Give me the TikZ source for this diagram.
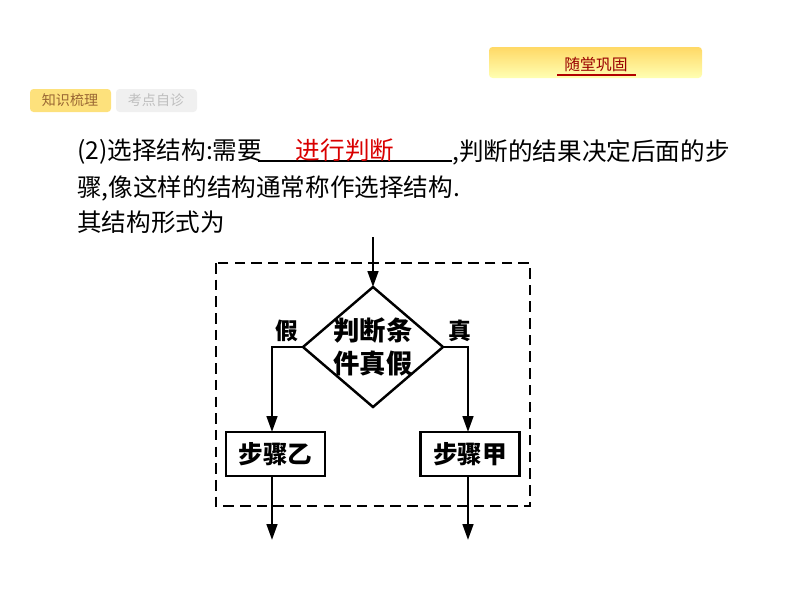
\documentclass[tikz,border=0pt]{standalone}
\usepackage{fontspec}
\newfontfamily\cjk{Noto Sans CJK SC}
\usetikzlibrary{arrows.meta}
\begin{document}
\begin{tikzpicture}[x=0.02cm,y=-0.02cm,
  body/.style={font=\cjk\fontsize{14}{16}\selectfont,anchor=west,inner sep=0},
  flow/.style={line width=1.4pt},
  arr/.style={flow,-{Triangle[length=9pt,width=6pt]}},
  stepbox/.style={draw,line width=1.6pt,minimum width=99*0.02cm,minimum height=44*0.02cm,font=\cjk\bfseries\fontsize{14}{16}\selectfont,inner sep=0},
  lbl/.style={font=\cjk\bfseries\fontsize{13}{15}\selectfont,inner sep=0}]
\useasboundingbox (0,0) rectangle (794,596);
\shade[top color=yellow!50!orange!60, bottom color=yellow!30, rounded corners=2pt] (489,47) rectangle (702,78);
\node[font=\cjk\fontsize{9}{10}\selectfont,text=red!60!black,inner sep=0] (tab) at (596,64) {随堂巩固};
\draw[red!70!black,line width=0.8pt] (557,75) -- (636,75);
\fill[rounded corners=2pt,fill=yellow!60!orange!50] (30,89) rectangle (111,112);
\node[font=\cjk\fontsize{8}{10}\selectfont,text=brown!80!black,inner sep=0] (t1) at (70,100) {知识梳理};
\fill[rounded corners=2pt,fill=black!6] (116,89) rectangle (197,112);
\node[font=\cjk\fontsize{8}{10}\selectfont,text=black!25,inner sep=0] (t2) at (156,100) {考点自诊};
\node[body] (l1a) at (77,152) {(2)选择结构:需要};
\draw[line width=0.7pt] (258,161) -- (452,161);
\node[font=\cjk\fontsize{14}{16}\selectfont,text=red!85!black,inner sep=0] (ans) at (345,150) {进行判断};
\node[body] (l1b) at (452,152) {,判断的结果决定后面的步};
\node[body] (l2) at (77,188) {骤,像这样的结构通常称作选择结构.};
\node[body] (l3) at (77,222) {其结构形式为};
\draw[line width=1.5pt,dash pattern=on 6pt off 3.5pt] (216,263) rectangle (530,506);
\coordinate (in) at (373,237);
\coordinate (dt) at (373,287);
\coordinate (db) at (373,407);
\coordinate (dl) at (303,347);
\coordinate (dr) at (443,347);
\draw[flow,line join=miter] (dt) -- (dr) -- (db) -- (dl) -- cycle;
\node[lbl,align=center,font=\cjk\bfseries\fontsize{15}{19}\selectfont] (cond) at (373,347) {判断条\\件真假};
\draw[arr] (in) -- (dt);
\node[stepbox] (yi) at (275.5,454) {步骤乙};
\node[stepbox] (jia) at (470,454) {步骤甲};
\draw[arr] (dl) -- (272,347) -- (272,432);
\draw[arr] (dr) -- (468,347) -- (468,432);
\coordinate (o1) at (272,540);
\coordinate (o2) at (468,540);
\draw[arr] (272,476) -- (o1);
\draw[arr] (468,476) -- (o2);
\node[lbl] (f) at (287,331) {假};
\node[lbl] (t) at (460,331) {真};
\end{tikzpicture}
\end{document}
